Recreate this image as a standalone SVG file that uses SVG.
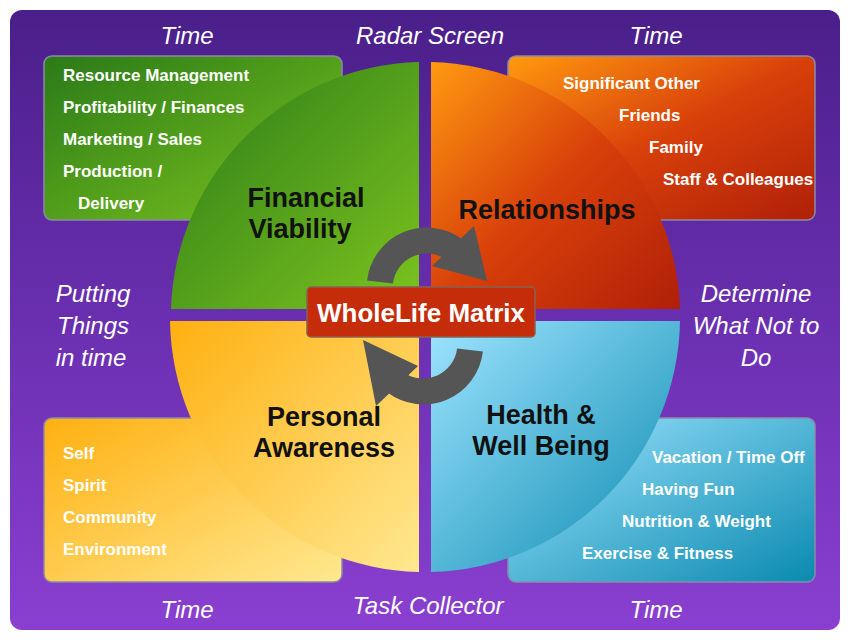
<svg xmlns="http://www.w3.org/2000/svg" width="850" height="640" viewBox="0 0 850 640">
<defs>
<linearGradient id="bg" x1="0" y1="0" x2="0" y2="1"><stop offset="0" stop-color="#4a1f8a"/><stop offset="0.5" stop-color="#6a2fb0"/><stop offset="1" stop-color="#8a3fd0"/></linearGradient>
<linearGradient id="gr" x1="0" y1="0" x2="1" y2="1"><stop offset="0" stop-color="#2a7a18"/><stop offset="1" stop-color="#7cc41e"/></linearGradient>
<linearGradient id="or" x1="0" y1="0" x2="1" y2="1"><stop offset="0" stop-color="#ff9a10"/><stop offset="0.5" stop-color="#d8400a"/><stop offset="1" stop-color="#b02008"/></linearGradient>
<linearGradient id="ye" x1="0" y1="0" x2="1" y2="1"><stop offset="0" stop-color="#ffb010"/><stop offset="1" stop-color="#ffe890"/></linearGradient>
<linearGradient id="bl" x1="0" y1="0" x2="1" y2="1"><stop offset="0" stop-color="#9ee4ff"/><stop offset="1" stop-color="#0a8ab0"/></linearGradient>
</defs>
<style>
.lbl{font-family:"Liberation Sans",Arial,sans-serif;font-weight:bold;font-size:17px;fill:#fff}
.it{font-family:"Liberation Sans",Arial,sans-serif;font-style:italic;font-size:24px;fill:#fff}
.q{font-family:"Liberation Sans",Arial,sans-serif;font-weight:bold;font-size:27px;fill:#111;text-anchor:middle}
.box{stroke:#8a8aa8;stroke-width:1.5}
</style>
<rect x="10" y="10" width="830" height="620" rx="12" fill="url(#bg)"/>
<g id="box-tl"><rect class="box" x="44" y="56" width="298" height="164" rx="8" fill="url(#gr)"/>
<text class="lbl" x="63" y="81">Resource Management</text><text class="lbl" x="63" y="113">Profitability / Finances</text><text class="lbl" x="63" y="145">Marketing  / Sales</text><text class="lbl" x="63" y="177">Production /</text><text class="lbl" x="78" y="209">Delivery</text></g>
<g id="box-tr"><rect class="box" x="508" y="56" width="307" height="164" rx="8" fill="url(#or)"/>
<text class="lbl" x="563" y="89">Significant Other</text><text class="lbl" x="619" y="121">Friends</text><text class="lbl" x="649" y="153">Family</text><text class="lbl" x="663" y="185">Staff &amp; Colleagues</text></g>
<g id="box-bl"><rect class="box" x="44" y="418" width="298" height="164" rx="8" fill="url(#ye)"/>
<text class="lbl" x="63" y="459">Self</text><text class="lbl" x="63" y="491">Spirit</text><text class="lbl" x="63" y="523">Community</text><text class="lbl" x="63" y="555">Environment</text></g>
<g id="box-br"><rect class="box" x="508" y="418" width="307" height="164" rx="8" fill="url(#bl)"/>
<text class="lbl" x="652" y="463">Vacation / Time Off</text><text class="lbl" x="642" y="495">Having Fun</text><text class="lbl" x="622" y="527">Nutrition &amp; Weight</text><text class="lbl" x="582" y="559">Exercise &amp; Fitness</text></g>
<g id="q-fin"><path d="M419,309 L419,62 A255,255 0 0 0 171,309 Z" fill="url(#gr)"/><text class="q" x="306" y="207">Financial</text><text class="q" x="300" y="238">Viability</text></g>
<g id="q-rel"><path d="M431,309 L431,62 A255,255 0 0 1 680,309 Z" fill="url(#or)"/><text class="q" x="547" y="219">Relationships</text></g>
<g id="q-per"><path d="M419,321 L419,572 A255,255 0 0 1 170,321 Z" fill="url(#ye)"/><text class="q" x="324" y="426">Personal</text><text class="q" x="324" y="457">Awareness</text></g>
<g id="q-hea"><path d="M431,321 L431,572 A255,255 0 0 0 680,321 Z" fill="url(#bl)"/><text class="q" x="541" y="424">Health &amp;</text><text class="q" x="541" y="455">Well Being</text></g>
<g id="connectors" fill="#555" stroke="none">
<path d="M380,282 A47,47 0 0 1 455,250" fill="none" stroke="#555" stroke-width="26"/>
<polygon points="474,226 432,266 487,281"/>
<path d="M470,350 A47,47 0 0 1 395,382" fill="none" stroke="#555" stroke-width="26"/>
<polygon points="376,406 418,366 363,340"/>
</g>
<g id="center"><rect x="307" y="287" width="228" height="50" rx="4" fill="#c42c0a" stroke="#8a6050" stroke-width="1.5"/>
<text x="421" y="322" text-anchor="middle" style="font-family:'Liberation Sans',Arial,sans-serif;font-weight:bold;font-size:26px;fill:#fff">WholeLife Matrix</text></g>
<g id="labels">
<text class="it" x="187" y="44" text-anchor="middle">Time</text>
<text class="it" x="430" y="44" text-anchor="middle">Radar Screen</text>
<text class="it" x="656" y="44" text-anchor="middle">Time</text>
<text class="it" x="187" y="618" text-anchor="middle">Time</text>
<text class="it" x="428" y="614" text-anchor="middle">Task Collector</text>
<text class="it" x="656" y="618" text-anchor="middle">Time</text>
<text class="it" x="93" y="302" text-anchor="middle">Putting</text>
<text class="it" x="93" y="334" text-anchor="middle">Things</text>
<text class="it" x="91" y="366" text-anchor="middle">in time</text>
<text class="it" x="756" y="302" text-anchor="middle">Determine</text>
<text class="it" x="756" y="334" text-anchor="middle">What Not to</text>
<text class="it" x="756" y="366" text-anchor="middle">Do</text>
</g>
</svg>
